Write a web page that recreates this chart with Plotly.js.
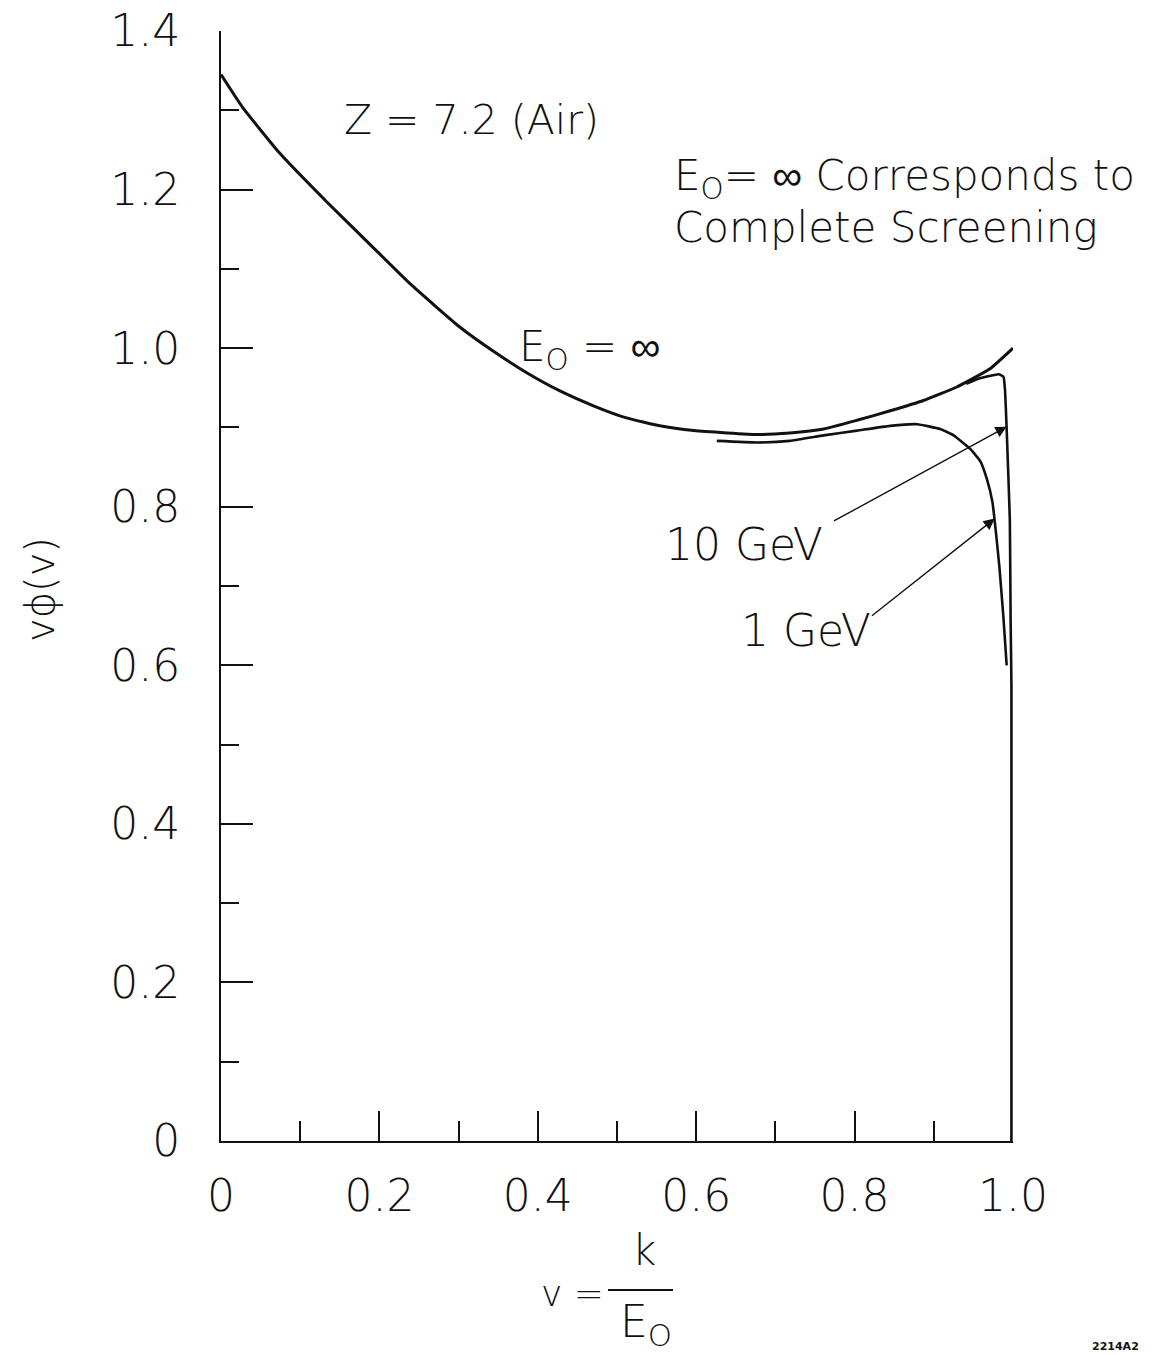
<!DOCTYPE html>
<html>
<head>
<meta charset="utf-8">
<script src="https://cdn.plot.ly/plotly-3.0.1.min.js"></script>
<style>
  html, body { margin: 0; padding: 0; background: #fff; }
  #chart { width: 1167px; height: 1355px; }
</style>
</head>
<body>
<div id="chart"></div>
<script>
// ---- Data ----
// E0 = infinity (complete screening)
const vInf   = [0, 0.027, 0.074, 0.134, 0.189, 0.240, 0.301, 0.344, 0.386, 0.428, 0.471, 0.512, 0.554, 0.597, 0.639, 0.677, 0.718, 0.761, 0.803, 0.845, 0.887, 0.929, 0.971, 1.0];
const phiInf = [1.345, 1.304, 1.246, 1.184, 1.130, 1.080, 1.027, 0.996, 0.969, 0.946, 0.927, 0.912, 0.902, 0.896, 0.893, 0.891, 0.893, 0.898, 0.909, 0.921, 0.934, 0.951, 0.974, 1.000];

// E0 = 1 GeV
const v1GeV   = [0.626, 0.677, 0.718, 0.761, 0.803, 0.845, 0.879, 0.908, 0.925, 0.946, 0.959, 0.967, 0.974, 0.978, 0.983, 0.988, 0.992];
const phi1GeV = [0.883, 0.881, 0.883, 0.890, 0.896, 0.902, 0.904, 0.898, 0.890, 0.873, 0.857, 0.835, 0.806, 0.772, 0.722, 0.659, 0.600];

// E0 = 10 GeV
const v10GeV   = [0.941, 0.958, 0.982, 0.988, 0.990, 0.992, 0.996, 0.997, 0.998, 0.998];
const phi10GeV = [0.955, 0.962, 0.967, 0.964, 0.946, 0.898, 0.784, 0.658, 0.575, 0.0];

// Axis ticks
const xTickVals = [0, 0.2, 0.4, 0.6, 0.8, 1.0];
const xTickText = ['0', '0.2', '0.4', '0.6', '0.8', '1.0'];
const yTickVals = [0, 0.2, 0.4, 0.6, 0.8, 1.0, 1.2, 1.4];
const yTickText = ['0', '0.2', '0.4', '0.6', '0.8', '1.0', '1.2', '1.4'];

// Arrow annotations: [head v, head y, tail v, tail y]
const arrow10GeV = [0.992, 0.901, 0.772, 0.781];
const arrow1GeV  = [0.977, 0.785, 0.820, 0.661];

// ---- Layout geometry ----
const W = 1167, H = 1355;
const M = {l: 221, r: 154, t: 31, b: 214};
const PW = W - M.l - M.r, PH = H - M.t - M.b;
const px = x => (x - M.l) / PW;          // pixel -> paper x
const py = y => (H - M.b - y) / PH;      // pixel -> paper y

const FONT = '"DejaVu Sans", "Liberation Sans", sans-serif';
const INK = '#111';

const traces = [
  {x: vInf, y: phiInf, mode: 'lines', line: {color: INK, width: 3, shape: 'spline', smoothing: 0.4}, hoverinfo: 'skip'},
  {x: v1GeV, y: phi1GeV, mode: 'lines', line: {color: INK, width: 2.6, shape: 'spline', smoothing: 0.4}, hoverinfo: 'skip'},
  {x: v10GeV, y: phi10GeV, mode: 'lines', line: {color: INK, width: 2.6, shape: 'spline', smoothing: 0.3}, hoverinfo: 'skip'}
];

function txt(text, x, y, size, opts) {
  return Object.assign({
    text: text, x: x, y: y, xref: 'x', yref: 'y', showarrow: false,
    font: {family: FONT, size: size, color: INK, weight: 200},
    xanchor: 'left', yanchor: 'middle'
  }, opts || {});
}

function arrow(a) {
  return {
    x: a[0], y: a[1], ax: a[2], ay: a[3], xref: 'x', yref: 'y', axref: 'x', ayref: 'y',
    text: '', showarrow: true, arrowhead: 2, arrowsize: 1.6, arrowwidth: 1.4, arrowcolor: INK
  };
}

const annotations = [
  txt('Z = 7.2 (Air)', 0.316, 1.288, 41, {xanchor: 'center'}),
  txt('E<sub>O</sub>= ∞ Corresponds to', 0.569, 1.214, 42),
  txt('Complete Screening', 0.569, 1.152, 42),
  txt('E<sub>O</sub> = ∞', 0.374, 0.998, 42),
  txt('10 GeV', 0.558, 0.752, 44),
  txt('1 GeV', 0.654, 0.644, 44),
  arrow(arrow10GeV),
  arrow(arrow1GeV),
  // y-axis title
  {text: 'vϕ(v)', xref: 'paper', yref: 'paper', x: px(40), y: py(590), showarrow: false,
   textangle: -90, font: {family: FONT, size: 40, color: INK, weight: 200}, xanchor: 'center', yanchor: 'middle'},
  // x-axis title: v = k / E0
  {text: 'v =', xref: 'paper', yref: 'paper', x: px(572), y: py(1293), showarrow: false,
   font: {family: FONT, size: 36, color: INK, weight: 200}, xanchor: 'center', yanchor: 'middle'},
  {text: 'k', xref: 'paper', yref: 'paper', x: px(644), y: py(1250), showarrow: false,
   font: {family: FONT, size: 42, color: INK, weight: 200}, xanchor: 'center', yanchor: 'middle'},
  {text: 'E<sub>O</sub>', xref: 'paper', yref: 'paper', x: px(646), y: py(1324), showarrow: false,
   font: {family: FONT, size: 44, color: INK, weight: 200}, xanchor: 'center', yanchor: 'middle'},
  {text: '2214A2', xref: 'paper', yref: 'paper', x: px(1115), y: py(1347), showarrow: false,
   font: {family: FONT, size: 11, color: INK, weight: 'bold'}, xanchor: 'center', yanchor: 'middle'}
];

const shapes = [
  {type: 'line', xref: 'paper', yref: 'paper', x0: px(608), x1: px(673), y0: py(1290), y1: py(1290),
   line: {color: INK, width: 2}}
];

const axisCommon = {
  showline: true, linecolor: INK, linewidth: 2, mirror: false,
  showgrid: false, zeroline: false, ticks: 'inside', tickcolor: INK, tickwidth: 2,
  tickmode: 'array', tickfont: {family: FONT, size: 44, color: INK, weight: 200}, fixedrange: true
};

const layout = {
  width: W, height: H,
  margin: M,
  paper_bgcolor: '#fff', plot_bgcolor: '#fff',
  showlegend: false,
  xaxis: Object.assign({}, axisCommon, {
    range: [0, 1], tickvals: xTickVals, ticktext: xTickText, ticklen: 30, ticklabelstandoff: 15,
    minor: {dtick: 0.1, tick0: 0, ticks: 'inside', ticklen: 20, tickwidth: 2, tickcolor: INK, showgrid: false}
  }),
  yaxis: Object.assign({}, axisCommon, {
    range: [0, 1.4], tickvals: yTickVals, ticktext: yTickText, ticklen: 32, ticklabelstandoff: 30,
    minor: {dtick: 0.1, tick0: 0, ticks: 'inside', ticklen: 18, tickwidth: 2, tickcolor: INK, showgrid: false}
  }),
  annotations: annotations,
  shapes: shapes
};

Plotly.newPlot('chart', traces, layout, {displayModeBar: false, staticPlot: true});
</script>
</body>
</html>
